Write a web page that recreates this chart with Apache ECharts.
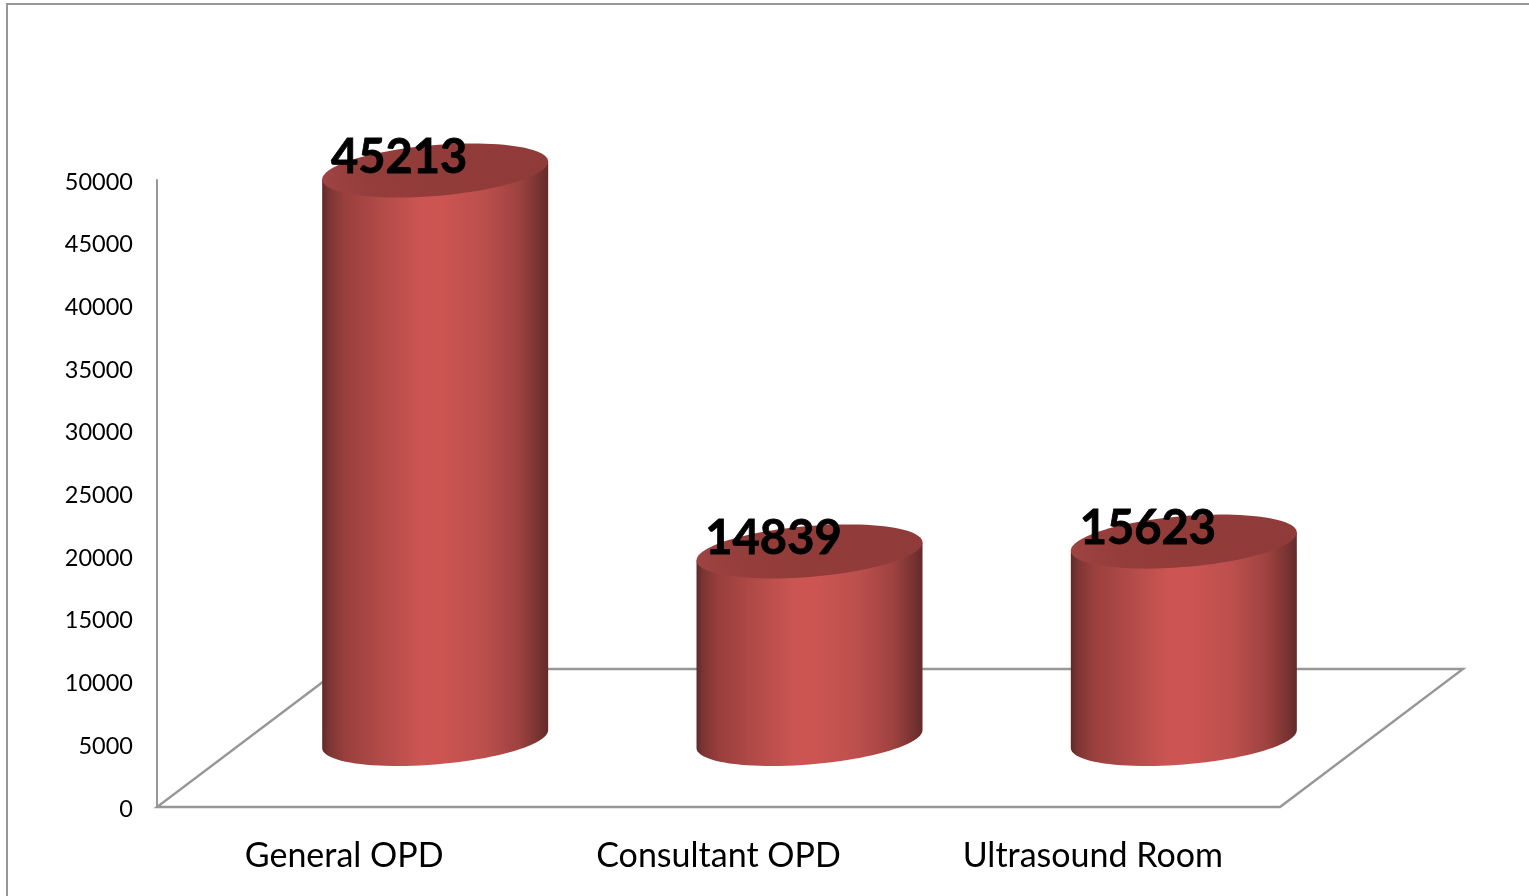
<!DOCTYPE html>
<html>
<head>
<meta charset="utf-8">
<style>html,body{margin:0;padding:0;background:#fff}#c{width:1529px;height:896px}</style>
<script src="https://cdn.jsdelivr.net/npm/echarts@6/dist/echarts.min.js"></script>
</head>
<body>
<div id="c"></div>
<script>
const categories = ['General OPD', 'Consultant OPD', 'Ultrasound Room'];
const values = [45213, 14839, 15623];
const yTicks = { min: 0, max: 50000, interval: 5000 };

const FONT = 'Lato, Carlito, "Open Sans", sans-serif';
const DEPTH = { dx: 183, dy: 138 };
const BAR = { shiftX: 91, shiftY: 68, capLift: 1.5, halfW: 113, tilt: 9, halfH: 25.5 };
const GREY = '#979797';

function ellipsePts(cx, cy, from, to, n) {
  const pts = [];
  for (let i = 0; i <= n; i++) {
    const t = from + (to - from) * i / n;
    pts.push([cx + BAR.halfW * Math.cos(t), cy - BAR.tilt * Math.cos(t) + BAR.halfH * Math.sin(t)]);
  }
  return pts;
}

const bodyFill = new echarts.graphic.LinearGradient(0, 0, 1, 0, [
  { offset: 0, color: '#5f2a2a' },
  { offset: 0.03, color: '#7c3533' },
  { offset: 0.1, color: '#993f3d' },
  { offset: 0.25, color: '#b04a47' },
  { offset: 0.43, color: '#cb5552' },
  { offset: 0.52, color: '#cc5552' },
  { offset: 0.72, color: '#bb4f4c' },
  { offset: 0.87, color: '#9e4240' },
  { offset: 0.96, color: '#773331' },
  { offset: 1, color: '#632a2a' }
]);
const topFill = new echarts.graphic.LinearGradient(0, 1, 1, 0, [
  { offset: 0, color: '#9f4442' },
  { offset: 0.22, color: '#943d3b' },
  { offset: 1, color: '#8f3b39' }
]);

function renderFloor(params, api) {
  const g = params.coordSys;
  const bl = [g.x, g.y + g.height], br = [g.x + g.width, g.y + g.height];
  return {
    type: 'polygon',
    silent: true,
    shape: { points: [bl, br, [br[0] + DEPTH.dx, br[1] - DEPTH.dy], [bl[0] + DEPTH.dx, bl[1] - DEPTH.dy]] },
    style: { fill: 'none', stroke: GREY, lineWidth: 2.4 }
  };
}

function renderCylinder(params, api) {
  const top = api.coord([api.value(0), api.value(1)]);
  const base = api.coord([api.value(0), 0]);
  const cx = top[0] + BAR.shiftX;
  const yt = top[1] - BAR.shiftY - BAR.capLift;
  const yb = base[1] - BAR.shiftY;
  const lower = ellipsePts(cx, yb, Math.PI, 0, 48);
  const body = [[cx - BAR.halfW, yt + BAR.tilt]].concat(lower, [[cx + BAR.halfW, yt - BAR.tilt]]);
  const cap = ellipsePts(cx, yt, 0, Math.PI * 2, 96);
  return {
    type: 'group',
    children: [
      { type: 'polygon', shape: { points: body }, style: { fill: bodyFill } },
      { type: 'polygon', shape: { points: cap }, style: { fill: topFill } },
      {
        type: 'text',
        style: {
          x: cx - 36, y: yt - 13,
          text: String(api.value(1)),
          font: 'bold 47px ' + FONT,
          fill: '#000',
          stroke: '#000',
          lineWidth: 0.8,
          align: 'center',
          verticalAlign: 'middle'
        }
      }
    ]
  };
}

const chart = echarts.init(document.getElementById('c'), null, { renderer: 'canvas' });
chart.setOption({
  animation: false,
  backgroundColor: '#fff',
  grid: { left: 157, top: 180, width: 1123, height: 627 },
  xAxis: {
    type: 'category',
    data: categories,
    axisTick: { show: false },
    axisLine: { show: false },
    axisLabel: { color: '#000', fontFamily: FONT, fontSize: 34, margin: 32 }
  },
  yAxis: {
    type: 'value',
    min: yTicks.min, max: yTicks.max, interval: yTicks.interval,
    splitLine: { show: false },
    axisTick: { show: false },
    axisLine: { show: true, lineStyle: { color: GREY, width: 2 } },
    axisLabel: { color: '#000', fontFamily: FONT, fontSize: 23.5, margin: 24, verticalAlign: 'top', lineHeight: 4, formatter: v => String(v) }
  },
  graphic: [
    { type: 'polyline', silent: true, shape: { points: [[7, 896], [7, 4], [1529, 4]] }, style: { fill: 'none', stroke: GREY, lineWidth: 2 } }
  ],
  series: [
    { type: 'custom', renderItem: renderFloor, data: [0], silent: true, z: 1, clip: false },
    { type: 'custom', renderItem: renderCylinder, encode: { x: 0, y: 1 }, data: values.map((v, i) => [i, v]), z: 2, clip: false }
  ]
});
</script>
</body>
</html>
